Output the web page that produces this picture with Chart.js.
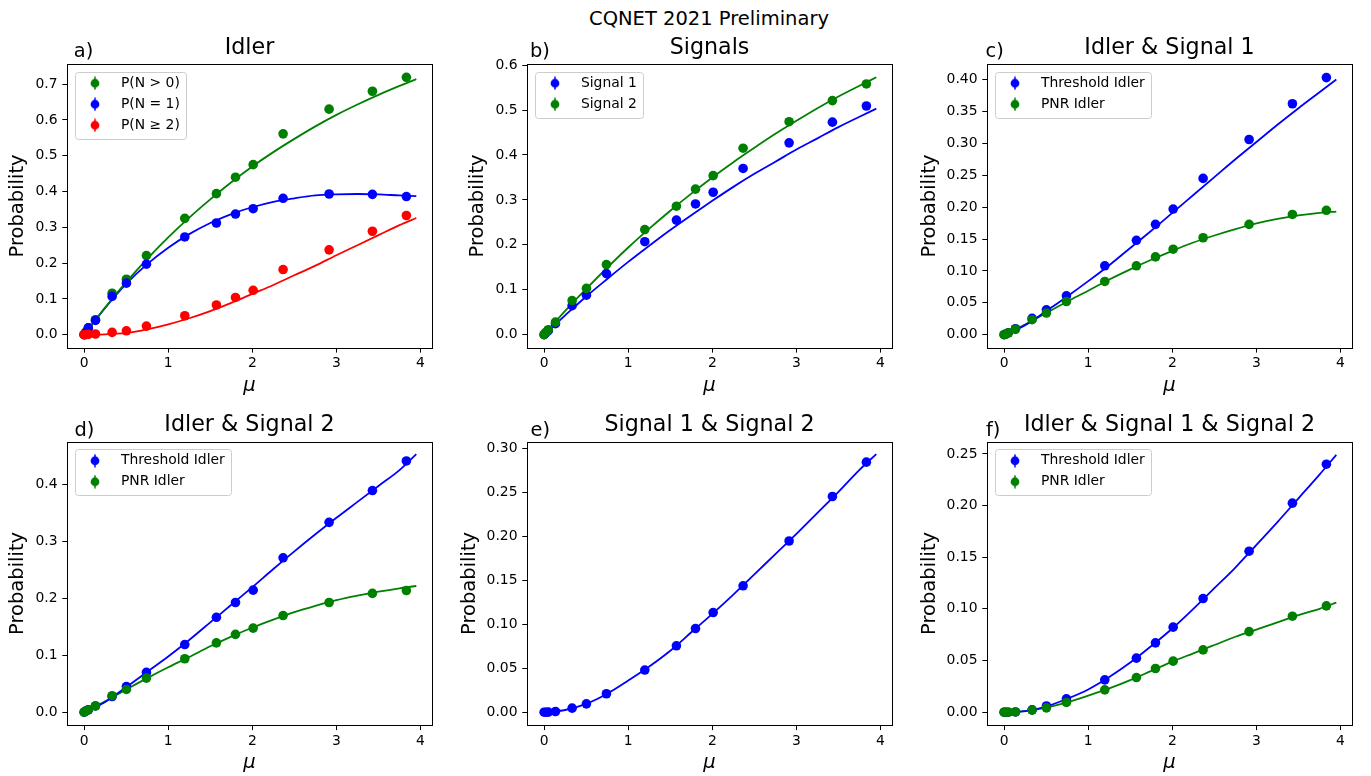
<!DOCTYPE html>
<html lang="en">
<head>
  <meta charset="UTF-8" />
  <title>CQNET 2021 Preliminary</title>
  <script src="https://cdn.jsdelivr.net/npm/chart.js"></script>
  <style>
    body { margin: 0; background: #fff; width: 1371px; height: 776px; overflow: hidden; position: relative;
           font-family: 'DejaVu Sans', sans-serif; }
    #suptitle { position: absolute; left: 509px; width: 400px; top: 9px; text-align: center;
                font-size: 19.5px; line-height: 20px; color: #000; white-space: nowrap; }
    canvas { position: absolute; }
  </style>
</head>
<body>
  <div id="suptitle">CQNET 2021 Preliminary</div>
  <canvas id="pa" width="443" height="362"></canvas>
  <canvas id="pb" width="443" height="362"></canvas>
  <canvas id="pc" width="443" height="362"></canvas>
  <canvas id="pd" width="443" height="362"></canvas>
  <canvas id="pe" width="443" height="362"></canvas>
  <canvas id="pf" width="443" height="362"></canvas>

  <script>
    // mean photon number of the measured points and of the model curves
    const xMu = [0, 0.02, 0.05, 0.135, 0.333, 0.503, 0.741, 1.197, 1.573, 1.80, 2.01, 2.366, 2.913, 3.428, 3.832];
    const xMuFit = [0, 0.25, 0.5, 0.75, 1, 1.25, 1.5, 1.75, 2, 2.25, 2.5, 2.75, 3, 3.25, 3.5, 3.75, 3.95];
    const xTicks = [0, 1, 2, 3, 4];
    const xTickLabels = ['0', '1', '2', '3', '4'];

    // a) Idler
    const idlerNgt0 = [0, 0.007, 0.019, 0.042, 0.116, 0.155, 0.221, 0.325, 0.394, 0.440, 0.475, 0.561, 0.630, 0.680, 0.719];
    const idlerNeq1 = [0, 0.006, 0.019, 0.040, 0.107, 0.144, 0.197, 0.273, 0.312, 0.337, 0.352, 0.381, 0.393, 0.392, 0.386];
    const idlerNge2 = [0, 0, 0.001, 0.002, 0.0065, 0.011, 0.024, 0.053, 0.083, 0.104, 0.124, 0.182, 0.237, 0.289, 0.333];
    const idlerNgt0Fit = [0, 0.076, 0.147, 0.212, 0.272, 0.327, 0.378, 0.426, 0.470, 0.510, 0.547, 0.582, 0.614, 0.643, 0.670, 0.695, 0.714];
    const idlerNeq1Fit = [0, 0.075, 0.142, 0.197, 0.243, 0.281, 0.312, 0.337, 0.356, 0.371, 0.381, 0.389, 0.392, 0.393, 0.392, 0.389, 0.387];
    const idlerNge2Fit = [0, 0.001, 0.005, 0.015, 0.029, 0.046, 0.066, 0.089, 0.114, 0.139, 0.166, 0.193, 0.222, 0.250, 0.278, 0.306, 0.326];

    // b) Signals
    const signal1 = [0, 0.004, 0.009, 0.0245, 0.0645, 0.088, 0.136, 0.207, 0.255, 0.291, 0.317, 0.370, 0.427, 0.473, 0.509];
    const signal2 = [0, 0.005, 0.011, 0.028, 0.076, 0.103, 0.156, 0.234, 0.286, 0.324, 0.354, 0.415, 0.474, 0.521, 0.558];
    const signal1Fit = [0, 0.043, 0.085, 0.124, 0.162, 0.198, 0.233, 0.266, 0.298, 0.329, 0.358, 0.385, 0.412, 0.437, 0.462, 0.485, 0.503];
    const signal2Fit = [0, 0.053, 0.102, 0.149, 0.194, 0.236, 0.276, 0.314, 0.350, 0.384, 0.416, 0.447, 0.476, 0.504, 0.530, 0.554, 0.573];

    // c) Idler & Signal 1
    const idlerSig1Thr = [0, 0.001, 0.003, 0.0094, 0.0256, 0.039, 0.061, 0.108, 0.148, 0.173, 0.197, 0.245, 0.306, 0.362, 0.403];
    const idlerSig1Pnr = [0, 0.001, 0.003, 0.0084, 0.0235, 0.034, 0.052, 0.0835, 0.108, 0.122, 0.134, 0.152, 0.173, 0.1885, 0.195];
    const idlerSig1ThrFit = [0, 0.015, 0.037, 0.060, 0.084, 0.109, 0.136, 0.163, 0.191, 0.219, 0.247, 0.275, 0.302, 0.329, 0.355, 0.380, 0.400];
    const idlerSig1PnrFit = [0, 0.016, 0.034, 0.052, 0.069, 0.0865, 0.1025, 0.1175, 0.1315, 0.1445, 0.1555, 0.1655, 0.1745, 0.1815, 0.187, 0.191, 0.193];

    // d) Idler & Signal 2
    const idlerSig2Thr = [0, 0.002, 0.004, 0.011, 0.0276, 0.045, 0.070, 0.119, 0.167, 0.193, 0.2147, 0.2716, 0.334, 0.390, 0.442];
    const idlerSig2Pnr = [0, 0.002, 0.004, 0.011, 0.029, 0.040, 0.060, 0.094, 0.122, 0.137, 0.148, 0.170, 0.193, 0.209, 0.214];
    const idlerSig2ThrFit = [0, 0.018, 0.044, 0.071, 0.098, 0.127, 0.158, 0.189, 0.220, 0.252, 0.283, 0.313, 0.342, 0.370, 0.398, 0.426, 0.454];
    const idlerSig2PnrFit = [0, 0.019, 0.040, 0.060, 0.079, 0.097, 0.116, 0.133, 0.149, 0.163, 0.176, 0.187, 0.197, 0.205, 0.212, 0.218, 0.222];

    // e) Signal 1 & Signal 2
    const sig1Sig2 = [0, 0, 0.0001, 0.0008, 0.0046, 0.0095, 0.021, 0.048, 0.0756, 0.0953, 0.1135, 0.144, 0.195, 0.2457, 0.2848];
    const sig1Sig2Fit = [0, 0.0025, 0.0095, 0.021, 0.036, 0.052, 0.070, 0.091, 0.112, 0.134, 0.157, 0.180, 0.203, 0.227, 0.251, 0.276, 0.294];

    // f) Idler & Signal 1 & Signal 2
    const tripleThr = [0, 0, 0, 0.0002, 0.0023, 0.006, 0.0129, 0.0313, 0.0523, 0.0671, 0.0823, 0.110, 0.1558, 0.2023, 0.240];
    const triplePnr = [0, 0, 0, 0.0002, 0.002, 0.0042, 0.0094, 0.0216, 0.0335, 0.0423, 0.0494, 0.0603, 0.078, 0.0929, 0.1029];
    const tripleThrFit = [0, 0.001, 0.0055, 0.013, 0.022, 0.034, 0.048, 0.064, 0.081, 0.100, 0.120, 0.140, 0.162, 0.184, 0.207, 0.230, 0.249];
    const triplePnrFit = [0, 0.001, 0.0045, 0.0095, 0.016, 0.023, 0.031, 0.040, 0.049, 0.057, 0.065, 0.073, 0.080, 0.087, 0.094, 0.100, 0.106];

    // y ticks per panel
    const yTicksA = [0, 0.1, 0.2, 0.3, 0.4, 0.5, 0.6, 0.7];
    const yLabelsA = ['0.0', '0.1', '0.2', '0.3', '0.4', '0.5', '0.6', '0.7'];
    const yTicksB = [0, 0.1, 0.2, 0.3, 0.4, 0.5, 0.6];
    const yLabelsB = ['0.0', '0.1', '0.2', '0.3', '0.4', '0.5', '0.6'];
    const yTicksC = [0, 0.05, 0.1, 0.15, 0.2, 0.25, 0.3, 0.35, 0.4];
    const yLabelsC = ['0.00', '0.05', '0.10', '0.15', '0.20', '0.25', '0.30', '0.35', '0.40'];
    const yTicksD = [0, 0.1, 0.2, 0.3, 0.4];
    const yLabelsD = ['0.0', '0.1', '0.2', '0.3', '0.4'];
    const yTicksE = [0, 0.05, 0.1, 0.15, 0.2, 0.25, 0.3];
    const yLabelsE = ['0.00', '0.05', '0.10', '0.15', '0.20', '0.25', '0.30'];
    const yTicksF = [0, 0.05, 0.1, 0.15, 0.2, 0.25];
    const yLabelsF = ['0.00', '0.05', '0.10', '0.15', '0.20', '0.25'];

    const GREEN = '#008000', BLUE = '#0000ff', RED = '#ff0000';

    const AREA_LEFT = [67.3, 527.3, 987.3];
    const AREA_TOP = [64.2, 441.7];
    const AREA_W = 364.4, AREA_H = 283.4;
    const CANVAS_W = 443, CANVAS_H = 362;
    const X_AXIS_H = 50;
    const X_MIN = -0.2, X_MAX = 4.133;

    const F_TICK = 13.9, F_LABEL = 19.5, F_TITLE = 22.2, F_TAG = 19.4;

    Chart.defaults.font.family = "'DejaVu Sans', sans-serif";
    Chart.defaults.color = '#000';

    function markerImage(color) {
      const c = document.createElement('canvas');
      c.width = 10; c.height = 14;
      const g = c.getContext('2d');
      g.strokeStyle = color; g.lineWidth = 1.5;
      g.beginPath(); g.moveTo(5, 0.5); g.lineTo(5, 13.5); g.stroke();
      g.fillStyle = color;
      g.beginPath(); g.arc(5, 7, 4.4, 0, Math.PI * 2); g.fill();
      return c;
    }

    // moves the legend to the upper left corner and draws its frame
    const legendBox = {
      id: 'legendBox',
      beforeDraw(chart) {
        const lg = chart.legend;
        if (!lg || !lg.options.display) return;
        const ca = chart.chartArea;
        const pad = lg.options.labels.padding;
        const w = lg.width, h = lg.height;
        lg.left = ca.left + 8.65 - pad;
        lg.top = ca.top + 12.15 - pad;
        lg.right = lg.left + w;
        lg.bottom = lg.top + h;

        const ctx = chart.ctx;
        ctx.save();
        ctx.font = F_TICK + "px 'DejaVu Sans', sans-serif";
        const items = lg.legendItems;
        const tw = Math.max(...items.map(it => ctx.measureText(it.text).width));
        const fx = ca.left + 7.7, fy = ca.top + 7.5;
        const fw = 53.7 + tw + 6.5 - 7.7;
        const fh = 11.6 + (items.length - 1) * 21 + 13.6;
        ctx.beginPath();
        ctx.roundRect(Math.round(fx) + 0.5, Math.round(fy) + 0.5, Math.round(fw), Math.round(fh), 3);
        ctx.fillStyle = 'rgba(255,255,255,0.8)';
        ctx.fill();
        ctx.strokeStyle = '#cccccc';
        ctx.lineWidth = 1;
        ctx.stroke();
        ctx.restore();
      }
    };

    // panel letter and the four spines
    const panelTag = {
      id: 'panelTag',
      afterDraw(chart, args, opts) {
        const ca = chart.chartArea;
        const ctx = chart.ctx;
        ctx.save();
        ctx.strokeStyle = '#000';
        ctx.lineWidth = 1;
        ctx.strokeRect(Math.round(ca.left) + 0.5, Math.round(ca.top) + 0.5,
                       Math.round(ca.right) - Math.round(ca.left), Math.round(ca.bottom) - Math.round(ca.top));
        ctx.font = F_TAG + "px 'DejaVu Sans', sans-serif";
        ctx.fillStyle = '#000';
        ctx.textAlign = 'left';
        ctx.textBaseline = 'alphabetic';
        ctx.fillText(opts.text, ca.left + opts.dx, ca.top - opts.dy);
        ctx.restore();
      }
    };

    function pts(ys) { return xMu.map((x, i) => ({ x, y: ys[i] })); }
    function fitPts(ys) { return xMuFit.map((x, i) => ({ x, y: ys[i] })); }

    function legendLabels(chart) {
      const base = Chart.defaults.plugins.legend.labels.generateLabels(chart);
      return base
        .filter(it => chart.data.datasets[it.datasetIndex].isPoints)
        .sort((a, b) => a.datasetIndex - b.datasetIndex)
        .map(it => Object.assign(it, { pointStyle: markerImage(chart.data.datasets[it.datasetIndex].markerColor) }));
    }

    function panel(id, row, col, cfg) {
      const L = AREA_LEFT[col], T = AREA_TOP[row];
      const cl = Math.floor(L - 70), ct = Math.floor(T - 27);
      const yw = L - cl;
      const titleH = T - ct;
      const rightPad = cl + CANVAS_W - (L + AREA_W);
      const bottomPad = ct + CANVAS_H - (T + AREA_H) - X_AXIS_H;
      const yTitleMid = L - (cfg.longTicks ? 57.8 : 48.9);

      const canvas = document.getElementById(id);
      canvas.style.left = cl + 'px';
      canvas.style.top = ct + 'px';

      const n = cfg.series.length;
      const datasets = [];
      cfg.series.forEach((s, i) => datasets.push({
        type: 'scatter', label: s.label, data: pts(s.points), isPoints: true, markerColor: s.color,
        backgroundColor: s.color, borderColor: s.color, pointRadius: 4.8, pointHoverRadius: 4.8,
        pointBorderWidth: 0, order: n - i
      }));
      cfg.series.forEach(s => datasets.push({
        type: 'line', label: s.label + ' fit', data: fitPts(s.fit), borderColor: s.color,
        borderWidth: 1.8, pointRadius: 0, fill: false, cubicInterpolationMode: 'monotone', order: 50
      }));

      const tickGrid = { display: true, drawOnChartArea: false, drawTicks: true, tickLength: 5, color: '#000', lineWidth: 1 };

      return new Chart(canvas, {
        type: 'scatter',
        data: { datasets },
        options: {
          responsive: false,
          animation: false,
          events: [],
          layout: { padding: { left: 0, right: rightPad, top: 0, bottom: bottomPad } },
          plugins: {
            title: {
              display: true, text: cfg.title, fullSize: false, color: '#000',
              font: { size: F_TITLE, weight: 'normal', lineHeight: 1 },
              padding: { top: 0, bottom: titleH - F_TITLE }
            },
            legend: {
              display: n > 1 || cfg.legend === true,
              position: 'chartArea',
              align: 'start',
              labels: {
                usePointStyle: true, pointStyleWidth: 38, padding: 7.1, color: '#000',
                font: { size: F_TICK, lineHeight: 1 },
                generateLabels: legendLabels
              }
            },
            tooltip: { enabled: false },
            panelTag: { text: cfg.tag, dx: cfg.tagDx, dy: row === 0 ? 7.7 : 6.2 }
          },
          scales: {
            x: {
              type: 'linear', min: X_MIN, max: X_MAX,
              afterBuildTicks: s => { s.ticks = xTicks.map(v => ({ value: v })); },
              afterFit: s => { s.height = X_AXIS_H; },
              ticks: { autoSkip: false, maxRotation: 0, padding: 4.25, color: '#000',
                       font: { size: F_TICK, lineHeight: 1 }, callback: (v, i) => xTickLabels[i] },
              grid: tickGrid,
              border: { display: false },
              title: { display: true, text: 'μ', color: '#000',
                       font: { size: F_LABEL, style: 'italic', lineHeight: 1 }, padding: { top: 0, bottom: 2 } }
            },
            y: {
              type: 'linear', min: cfg.yMin, max: cfg.yMax,
              afterBuildTicks: s => { s.ticks = cfg.yTicks.map(v => ({ value: v })); },
              afterFit: s => { s.width = yw; },
              ticks: { autoSkip: false, padding: 4.8, color: '#000',
                       font: { size: F_TICK, lineHeight: 1 }, callback: (v, i) => cfg.yLabels[i] },
              grid: tickGrid,
              border: { display: false },
              title: { display: true, text: 'Probability', color: '#000',
                       font: { size: F_LABEL, lineHeight: 1 },
                       padding: { top: yTitleMid - cl - F_LABEL / 2, bottom: 0 } }
            }
          }
        },
        plugins: [legendBox, panelTag]
      });
    }

    panel('pa', 0, 0, {
      title: 'Idler', tag: 'a)', tagDx: 6.5,
      yMin: -0.036, yMax: 0.7556, yTicks: yTicksA, yLabels: yLabelsA,
      series: [
        { label: 'P(N > 0)', color: GREEN, points: idlerNgt0, fit: idlerNgt0Fit },
        { label: 'P(N = 1)', color: BLUE, points: idlerNeq1, fit: idlerNeq1Fit },
        { label: 'P(N ≥ 2)', color: RED, points: idlerNge2, fit: idlerNge2Fit }
      ]
    });

    panel('pb', 0, 1, {
      title: 'Signals', tag: 'b)', tagDx: 2.7,
      yMin: -0.0287, yMax: 0.602, yTicks: yTicksB, yLabels: yLabelsB,
      series: [
        { label: 'Signal 1', color: BLUE, points: signal1, fit: signal1Fit },
        { label: 'Signal 2', color: GREEN, points: signal2, fit: signal2Fit }
      ]
    });

    panel('pc', 0, 2, {
      title: 'Idler & Signal 1', tag: 'c)', tagDx: -1.8, longTicks: true,
      yMin: -0.0202, yMax: 0.424, yTicks: yTicksC, yLabels: yLabelsC,
      series: [
        { label: 'Threshold Idler', color: BLUE, points: idlerSig1Thr, fit: idlerSig1ThrFit },
        { label: 'PNR Idler', color: GREEN, points: idlerSig1Pnr, fit: idlerSig1PnrFit }
      ]
    });

    panel('pd', 1, 0, {
      title: 'Idler & Signal 2', tag: 'd)', tagDx: 7.2,
      yMin: -0.0227, yMax: 0.4759, yTicks: yTicksD, yLabels: yLabelsD,
      series: [
        { label: 'Threshold Idler', color: BLUE, points: idlerSig2Thr, fit: idlerSig2ThrFit },
        { label: 'PNR Idler', color: GREEN, points: idlerSig2Pnr, fit: idlerSig2PnrFit }
      ]
    });

    panel('pe', 1, 1, {
      title: 'Signal 1 & Signal 2', tag: 'e)', tagDx: 3.2, longTicks: true,
      yMin: -0.0147, yMax: 0.3081, yTicks: yTicksE, yLabels: yLabelsE,
      series: [
        { label: 'Signal 1 & Signal 2', color: BLUE, points: sig1Sig2, fit: sig1Sig2Fit }
      ]
    });

    panel('pf', 1, 2, {
      title: 'Idler & Signal 1 & Signal 2', tag: 'f)', tagDx: -1.3, longTicks: true,
      yMin: -0.0125, yMax: 0.2618, yTicks: yTicksF, yLabels: yLabelsF,
      series: [
        { label: 'Threshold Idler', color: BLUE, points: tripleThr, fit: tripleThrFit },
        { label: 'PNR Idler', color: GREEN, points: triplePnr, fit: triplePnrFit }
      ]
    });
  </script>
</body>
</html>
